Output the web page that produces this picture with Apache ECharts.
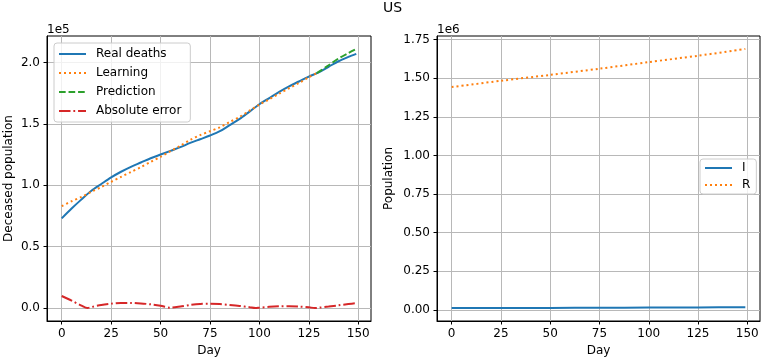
<!DOCTYPE html>
<html>
<head>
<meta charset="utf-8">
<script src="https://cdn.jsdelivr.net/npm/echarts@6/dist/echarts.min.js"></script>
<style>
html,body{margin:0;padding:0;background:#fff;}
#chart{width:762px;height:360px;}
</style>
</head>
<body>
<div id="chart"></div>
<script>
// ---- data (left: units of 1e5, right: units of 1e6) ----
const days = [0,5,10,15,20,25,30,35,40,45,50,55,60,65,70,75,80,85,90,95,100,105,110,115,120,125,130,135,140,145,149];
const realDeaths = [0.73,0.81,0.885,0.955,1.01,1.064,1.11,1.15,1.185,1.22,1.25,1.28,1.31,1.345,1.375,1.405,1.44,1.49,1.54,1.60,1.66,1.71,1.76,1.805,1.845,1.885,1.92,1.965,2.01,2.045,2.07];

const learnDays = [0,5,10,15,20,25,30,35,40,45,50,55,60,65,70,75,80,85,90,95,100,105,110,115,120,125,129];
const learning = [0.83,0.87,0.905,0.947,0.985,1.028,1.068,1.108,1.147,1.19,1.232,1.277,1.322,1.37,1.408,1.44,1.472,1.515,1.557,1.607,1.657,1.70,1.746,1.79,1.833,1.879,1.913];

const predDays = [129,130,135,140,145,149];
const prediction = [1.913,1.923,1.977,2.032,2.077,2.11];

const errDays = [0,5,10,13,15,20,25,30,35,40,45,50,55,60,65,70,75,80,85,90,95,98,100,105,110,115,120,125,128,130,135,140,145,149];
const absError = [0.098,0.06,0.02,0.0,0.008,0.025,0.036,0.042,0.042,0.038,0.03,0.018,0.003,0.012,0.025,0.033,0.035,0.032,0.025,0.017,0.007,0.0,0.003,0.01,0.014,0.015,0.012,0.006,0.0,0.003,0.012,0.022,0.032,0.04];

const sirDays = [0,25,50,75,100,125,149];
const infected = [0.012,0.013,0.013,0.014,0.015,0.016,0.017];
const recovered = [1.443,1.484,1.522,1.562,1.605,1.646,1.69];

const xTicks = [0,25,50,75,100,125,150];
const yTicksLeft = [0,0.5,1.0,1.5,2.0];
const yTicksRight = [0,0.25,0.5,0.75,1.0,1.25,1.5,1.75];

const title = 'US';
const leftExp = '1e5', rightExp = '1e6';

// ---- helpers ----
const zip = (xs, ys) => xs.map((x, i) => [x, ys[i]]);
const FONT = 'DejaVu Sans';
const C = {blue:'#1f77b4', orange:'#ff7f0e', green:'#2ca02c', red:'#d62728'};
const LW = 2;

function xAxis(gridIndex) {
  return {
    type: 'value', gridIndex, min: -7.45, max: 156.45,
    name: 'Day', nameLocation: 'middle', nameGap: 24,
    nameTextStyle: {fontFamily: FONT, fontSize: 12, color: '#000'},
    axisLine: {show: true, onZero: false, lineStyle: {color: '#000', width: 1}},
    axisTick: {show: true, length: 3.5, customValues: xTicks, lineStyle: {color: '#000', width: 1}},
    axisLabel: {customValues: xTicks, margin: 7, fontFamily: FONT, fontSize: 12, color: '#000'},
    splitLine: {show: true, lineStyle: {color: '#b8b8b8', width: 1}}
  };
}
function yAxis(gridIndex, min, max, ticks, dec, name, gap) {
  return {
    type: 'value', gridIndex, min, max,
    name, nameLocation: 'middle', nameGap: gap,
    nameTextStyle: {fontFamily: FONT, fontSize: 12, color: '#000'},
    axisLine: {show: true, onZero: false, lineStyle: {color: '#000', width: 1}},
    axisTick: {show: true, length: 3.5, customValues: ticks, lineStyle: {color: '#000', width: 1}},
    axisLabel: {customValues: ticks, margin: 7, fontFamily: FONT, fontSize: 12, color: '#000',
      formatter: v => v.toFixed(dec)},
    splitLine: {show: true, lineStyle: {color: '#b8b8b8', width: 1}}
  };
}
function line(name, xs, ys, color, dash, xi) {
  return {
    type: 'line', name, xAxisIndex: xi, yAxisIndex: xi,
    data: zip(xs, ys), smooth: 0.3, symbol: 'none', showSymbol: false,
    lineStyle: {color, width: LW, type: dash},
    itemStyle: {color},
    emphasis: {disabled: true}
  };
}
const legendCommon = {
  orient: 'vertical', itemWidth: 27, itemHeight: 14, itemGap: 7,
  backgroundColor: 'rgba(255,255,255,0.8)', borderColor: '#cccccc', borderWidth: 1, borderRadius: 3,
  itemStyle: {color: 'rgba(0,0,0,0)', borderWidth: 0, opacity: 0},
  textStyle: {fontFamily: FONT, fontSize: 12, color: '#000', padding: [0,0,0,5]},
  selectedMode: false
};

const chart = echarts.init(document.getElementById('chart'), null, {renderer: 'canvas'});
chart.setOption({
  animation: false,
  backgroundColor: '#fff',
  title: {text: title, left: 383, top: 1, padding: 0,
    textStyle: {fontFamily: FONT, fontSize: 14, fontWeight: 'normal', color: '#000'}},
  grid: [
    {left: 47, top: 36, width: 324, height: 285, outerBoundsMode: 'none', containLabel: false,
      show: true, borderColor: '#000', borderWidth: 1, backgroundColor: 'transparent'},
    {left: 437, top: 36, width: 323, height: 285, outerBoundsMode: 'none', containLabel: false,
      show: true, borderColor: '#000', borderWidth: 1, backgroundColor: 'transparent'}
  ],
  xAxis: [xAxis(0), xAxis(1)],
  yAxis: [
    yAxis(0, -0.1055, 2.2155, yTicksLeft, 1, 'Deceased population', 32),
    yAxis(1, -0.0719, 1.7739, yTicksRight, 2, 'Population', 42)
  ],
  legend: [
    Object.assign({}, legendCommon, {left: 54, top: 43, padding: [5, 9, 5, 4],
      data: ['Real deaths','Learning','Prediction','Absolute error']}),
    Object.assign({}, legendCommon, {left: 700, top: 159, padding: [3, 6, 3, 4], itemGap: 5,
      data: ['I','R']})
  ],
  graphic: [
    {type: 'text', left: 47, top: 24, style: {text: leftExp, font: '12px "DejaVu Sans"', fill: '#000'}},
    {type: 'text', left: 437, top: 24, style: {text: rightExp, font: '12px "DejaVu Sans"', fill: '#000'}}
  ],
  series: [
    line('Real deaths', days, realDeaths, C.blue, 'solid', 0),
    line('Learning', learnDays, learning, C.orange, [2, 3], 0),
    line('Prediction', predDays, prediction, C.green, [6.66, 2.88], 0),
    line('Absolute error', errDays, absError, C.red, [11.5, 2.88, 1.8, 2.88], 0),
    line('I', sirDays, infected, C.blue, 'solid', 1),
    line('R', sirDays, recovered, C.orange, [2, 3], 1)
  ]
});
</script>
</body>
</html>
